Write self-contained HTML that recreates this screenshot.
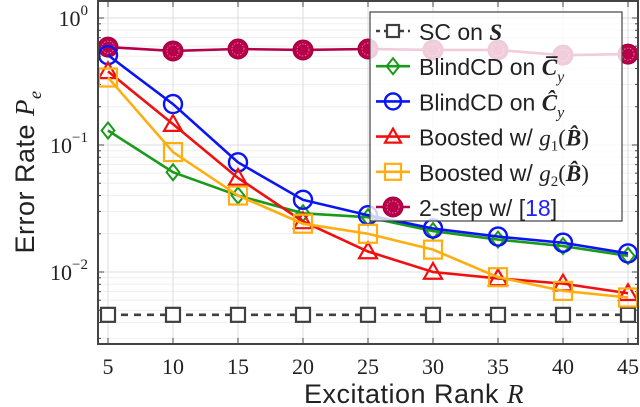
<!DOCTYPE html>
<html><head><meta charset="utf-8"><style>
html,body{margin:0;padding:0;background:#fff;width:640px;height:407px;overflow:hidden}
svg text{font-family:"Liberation Serif",serif}
.sans{font-family:"Liberation Sans",sans-serif}
</style></head><body>
<svg id="chart" width="640" height="407" xmlns="http://www.w3.org/2000/svg"></svg>
<script>
const ranks=[5,10,15,20,25,30,35,40,45];
const scS=[0.0046,0.0046,0.0046,0.0046,0.0046,0.0046,0.0046,0.0046,0.0046];
const blindBar=[0.13,0.061,0.040,0.029,0.027,0.021,0.018,0.016,0.0134];
const blindHat=[0.51,0.21,0.073,0.037,0.028,0.022,0.019,0.017,0.014];
const boostG1=[0.38,0.146,0.055,0.025,0.0145,0.010,0.0089,0.0081,0.0068];
const boostG2=[0.34,0.088,0.040,0.024,0.020,0.015,0.0091,0.0071,0.0063];
const twoStep=[0.59,0.55,0.57,0.56,0.57,0.56,0.56,0.51,0.52];
const xTicks=[5,10,15,20,25,30,35,40,45];
const yTickExp=[0,-1,-2];
const L=98,R=638,T=1,B=344;
const x=v=>108+(v-5)*13;
const y=v=>18-Math.log10(v)*127;
const svg=document.getElementById('chart');
const NS='http://www.w3.org/2000/svg';
function mk(tag,attrs,parent){const e=document.createElementNS(NS,tag);for(const k in attrs)e.setAttribute(k,attrs[k]);(parent||svg).appendChild(e);return e;}
const grid=mk('g',{});


for(let e=-3;e<=0;e++){for(let m=1;m<10;m++){const v=m*Math.pow(10,e);const yy=y(v);if(yy<T||yy>B)continue;
mk('line',{x1:L,x2:R,y1:yy,y2:yy,stroke:m===1?'#dcdcdc':'#efefef','stroke-width':1},grid);
mk('line',{x1:L,x2:L+(m===1?6:3),y1:yy,y2:yy,stroke:'#444'},grid);
mk('line',{x1:R,x2:R-(m===1?6:3),y1:yy,y2:yy,stroke:'#444'},grid);}}
xTicks.forEach(t=>{mk('line',{x1:x(t),x2:x(t),y1:T,y2:B,stroke:'#dcdcdc'},grid);
mk('line',{x1:x(t),x2:x(t),y1:B,y2:B-6,stroke:'#444'},grid);mk('line',{x1:x(t),x2:x(t),y1:T,y2:T+6,stroke:'#444'},grid);
const tl=mk('text',{x:x(t),y:374,'text-anchor':'middle','font-size':22,fill:'#222'});tl.textContent=t;

});
yTickExp.forEach(e=>{const tl=mk('text',{x:88,y:y(Math.pow(10,e))+8,'text-anchor':'end','font-size':22,fill:'#222'});


tl.innerHTML='10<tspan dy="-11" font-size="15">'+(e===0?'0':'−'+(-e))+'</tspan>';});
function marker(g,type,cx,cy,color,s){
 if(type==='sq')mk('rect',{x:cx-s,y:cy-s,width:2*s,height:2*s,fill:'#fff',stroke:color,'stroke-width':2.2},g);
 else if(type==='sqe')mk('rect',{x:cx-s,y:cy-s,width:2*s,height:2*s,fill:'none',stroke:color,'stroke-width':2.2},g);
 else if(type==='di')mk('polygon',{points:`${cx},${cy-s} ${cx+s*0.8},${cy} ${cx},${cy+s} ${cx-s*0.8},${cy}`,fill:'none',stroke:color,'stroke-width':2},g);
 else if(type==='ci')mk('circle',{cx,cy,r:s,fill:'none',stroke:color,'stroke-width':2.4},g);
 else if(type==='tr')mk('polygon',{points:`${cx},${cy-s} ${cx+s},${cy+s*0.75} ${cx-s},${cy+s*0.75}`,fill:'none',stroke:color,'stroke-width':2.2},g);
 else if(type==='dot'){mk('circle',{cx,cy,r:s,fill:color,stroke:'#a0003a','stroke-width':1},g);mk('circle',{cx,cy,r:s*0.6,fill:'none',stroke:'#e8a0b8','stroke-width':0.7,'stroke-dasharray':'1.5 1.5'},g);}
}
const series=[
 {name:'series-sc-on-s',d:scS,c:'#404040',m:'sq',s:7,dash:'7 6'},
 {name:'series-two-step',d:twoStep,c:'#b8004a',m:'dot',s:10},
 {name:'series-blindcd-bar',d:blindBar,c:'#1a9a1a',m:'di',s:8},
 {name:'series-blindcd-hat',d:blindHat,c:'#0a14f5',m:'ci',s:9},
 {name:'series-boosted-g1',d:boostG1,c:'#f01010',m:'tr',s:9},
 {name:'series-boosted-g2',d:boostG2,c:'#ffae10',m:'sqe',s:9},
];
series.forEach(sr=>{const g=mk('g',{});
 
 
 mk('polyline',{points:sr.d.map((v,i)=>x(ranks[i])+','+y(v)).join(' '),fill:'none',stroke:sr.c,'stroke-width':2.6,'stroke-dasharray':sr.dash||'none'},g);
 sr.d.forEach((v,i)=>marker(g,sr.m,x(ranks[i]),y(v),sr.c,sr.s));});
mk('rect',{x:L,y:T,width:R-L,height:B-T,fill:'none',stroke:'#444','stroke-width':2});
const lg=mk('g',{});


mk('rect',{x:370,y:12,width:252,height:209,fill:'rgba(255,255,255,0.8)',stroke:'#444','stroke-width':1.2},lg);
const labels=['SC on <tspan font-family="Liberation Serif" font-style="italic" font-weight="bold">S</tspan>',
'BlindCD on <tspan font-family="Liberation Serif" font-style="italic" font-weight="bold">C̅</tspan><tspan font-family="Liberation Serif" font-style="italic" font-size="16" dy="7">y</tspan>',
'BlindCD on <tspan font-family="Liberation Serif" font-style="italic" font-weight="bold">Ĉ</tspan><tspan font-family="Liberation Serif" font-style="italic" font-size="16" dy="7">y</tspan>',
'Boosted w/ <tspan font-family="Liberation Serif" font-style="italic">g</tspan><tspan font-family="Liberation Serif" font-size="15" dy="5">1</tspan><tspan font-family="Liberation Serif" dy="-5">(<tspan font-weight="bold" font-style="italic">B̂</tspan>)</tspan>',
'Boosted w/ <tspan font-family="Liberation Serif" font-style="italic">g</tspan><tspan font-family="Liberation Serif" font-size="15" dy="5">2</tspan><tspan font-family="Liberation Serif" dy="-5">(<tspan font-weight="bold" font-style="italic">B̂</tspan>)</tspan>',
'2-step w/ [<tspan fill="#2020ff">18</tspan>]'];
const legOrder=[0,2,3,4,5,1];
labels.forEach((lab,i)=>{const sr=series[legOrder[i]];const yy=31+i*35.2;
 const e=mk('g',{},lg);
 
 
 mk('line',{x1:376,x2:410,y1:yy,y2:yy,stroke:sr.c,'stroke-width':2.6,'stroke-dasharray':sr.dash?'4 4':'none'},e);
 marker(e,sr.m,393,yy,sr.c,sr.m==='sq'?6:(sr.m==='dot'?10:8));
 const t=mk('text',{x:419,y:yy+9,'font-size':23,fill:'#222',class:'sans'},e);t.innerHTML=lab;});
const xt=mk('text',{x:414,y:403,'text-anchor':'middle','font-size':27,fill:'#222',class:'sans','letter-spacing':'0.5'});


xt.innerHTML='Excitation Rank <tspan font-family="Liberation Serif" font-style="italic">R</tspan>';
const yt=mk('text',{x:0,y:0,'text-anchor':'middle','font-size':27,fill:'#222',class:'sans','letter-spacing':'0.5',transform:'translate(34,172) rotate(-90)'});


yt.innerHTML='Error Rate <tspan font-family="Liberation Serif" font-style="italic">P</tspan><tspan font-family="Liberation Serif" font-style="italic" font-size="18" dy="7">e</tspan>';
</script>
</body></html>
